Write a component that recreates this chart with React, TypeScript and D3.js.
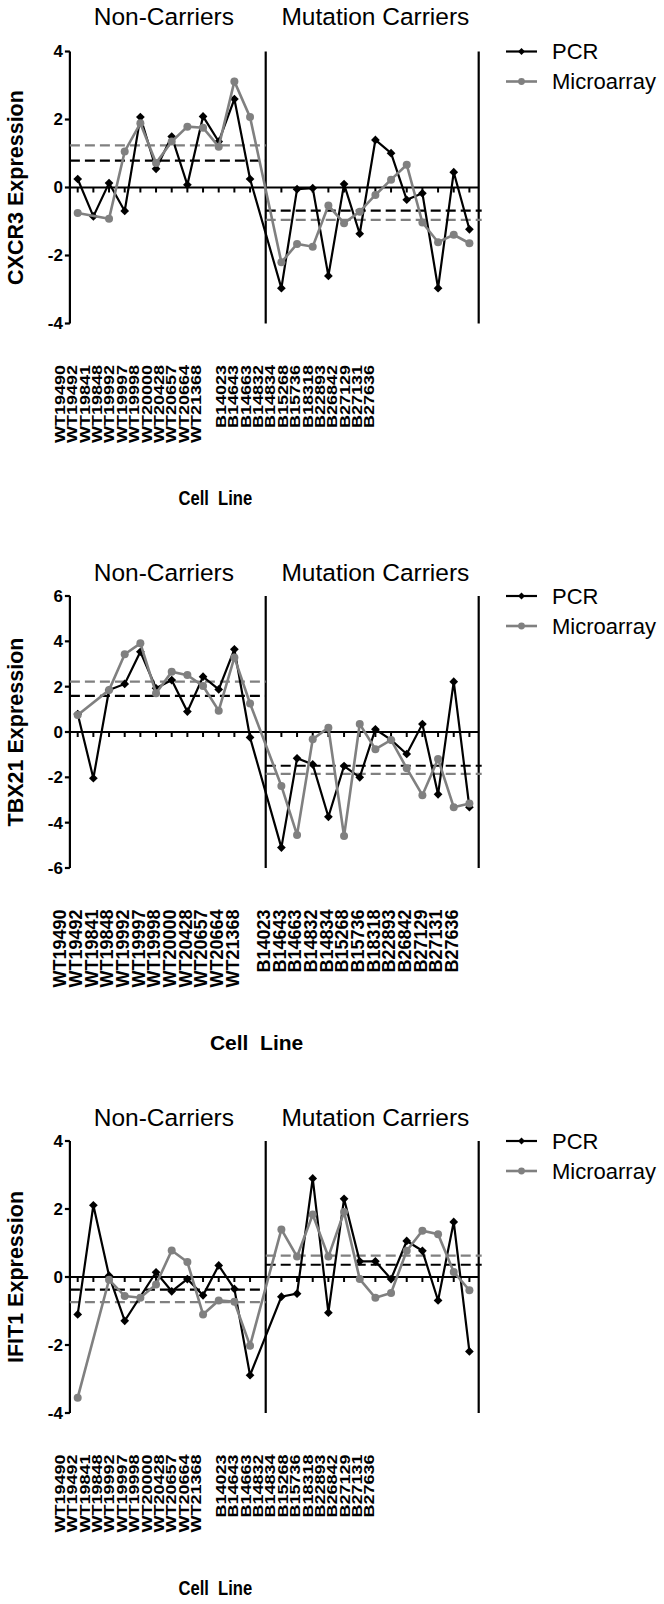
import * as d3 from "d3";

// cell lines, in plot order
const nonCarriers = [
  "WT19490", "WT19492", "WT19841", "WT19848", "WT19992", "WT19997",
  "WT19998", "WT20000", "WT20428", "WT20657", "WT20664", "WT21368",
];
const carriers = [
  "B14023", "B14643", "B14663", "B14832", "B14834", "B15268", "B15736",
  "B18318", "B22893", "B26842", "B27129", "B27131", "B27636",
];

const genes = ["CXCR3", "TBX21", "IFIT1"];
const yLimits = [4, 6, 4];

// values: 12 non-carriers then 13 carriers (null = not measured)
const cxcr3Pcr = [0.25, -0.85, 0.13, -0.69, 2.07, 0.55, 1.5, 0.08, 2.09, 1.35, 2.6, 0.25,
  -2.96, -0.05, -0.02, -2.6, 0.1, -1.36, 1.4, 1.01, -0.36, -0.17, -2.96, 0.45, -1.23];
const cxcr3Micro = [-0.75, null, -0.92, 1.06, 1.89, 0.72, 1.35, 1.79, 1.76, 1.2, 3.12, 2.07,
  -2.2, -1.66, -1.74, -0.53, -1.05, -0.71, -0.22, 0.23, 0.67, -1.03, -1.61, -1.39, -1.64];
const tbx21Pcr = [0.79, -2.04, 1.85, 2.12, 3.54, 1.93, 2.29, 0.9, 2.44, 1.88, 3.65, -0.24,
  -5.1, -1.16, -1.43, -3.74, -1.5, -2.0, 0.12, -0.35, -0.97, 0.35, -2.75, 2.22, -3.32];
const tbx21Micro = [0.75, null, 1.85, 3.43, 3.91, 1.71, 2.66, 2.51, 2.03, 0.94, 3.29, 1.26,
  -2.38, -4.54, -0.32, 0.19, -4.59, 0.35, -0.76, -0.35, -1.6, -2.79, -1.19, -3.32, -3.15];
const ifit1Pcr = [-1.1, 2.11, 0.04, -1.29, null, 0.14, -0.42, -0.06, -0.54, 0.34, -0.35, -2.89,
  -0.58, -0.49, 2.9, -1.05, 2.3, 0.46, 0.46, -0.06, 1.06, 0.77, -0.69, 1.62, -2.19];
const ifit1Micro = [-3.55, null, -0.08, -0.56, -0.61, -0.22, 0.78, 0.44, -1.1, -0.69, -0.73, -2.02,
  1.4, 0.6, 1.84, 0.6, 1.91, -0.06, -0.61, -0.47, 0.77, 1.36, 1.26, 0.15, -0.39];

// group means [non-carriers, carriers]
const pcrMeans = [[0.79, -0.68], [1.59, -1.49], [-0.37, 0.36]];
const microMeans = [[1.24, -0.95], [2.22, -1.85], [-0.74, 0.63]];

const pcrSeries = [cxcr3Pcr, tbx21Pcr, ifit1Pcr];
const microSeries = [cxcr3Micro, tbx21Micro, ifit1Micro];

const GAP = "__gap__";
const slots = [...nonCarriers, GAP, ...carriers];
const cellLines = [...nonCarriers, ...carriers];

const FONT = "'Liberation Sans', Arial, sans-serif";
const GRAY = "#808080";

const x = d3.scalePoint<string>().domain(slots).range([77.7, 469.4]);
const left = (x(nonCarriers[0]) as number) - 7.8;
const divider = x(GAP) as number;
const right = (x(carriers[carriers.length - 1]) as number) + 9.3;

// layout of the three stacked panels
const layout = [
  { top: 51.5, titleY: 25, squeeze: 0.79 },
  { top: 596, titleY: 581, squeeze: 1 },
  { top: 1141, titleY: 1126, squeeze: 0.79 },
];
const plotH = 272;

const diamond = d3.symbol(d3.symbolSquare, 38)()!;

function Panel({ idx }: { idx: number }) {
  const { top, titleY, squeeze } = layout[idx];
  const bottom = top + plotH;
  const lim = yLimits[idx];
  const y = d3.scaleLinear().domain([-lim, lim]).range([bottom, top]);
  const ticks = d3.range(-lim, lim + 0.1, 2);

  const pts = (vals: (number | null)[]) =>
    cellLines
      .map((c, i) => ({ c, v: vals[i] }))
      .filter((d) => d.v !== null) as { c: string; v: number }[];
  const line = d3
    .line<{ c: string; v: number }>()
    .x((d) => x(d.c) as number)
    .y((d) => y(d.v));

  const pcr = pts(pcrSeries[idx]);
  const micro = pts(microSeries[idx]);
  const tx = 60 - squeeze * (x(nonCarriers[0]) as number);
  const labelTop = bottom + 41.5;
  const midNC = ((x(nonCarriers[0]) as number) + (x(nonCarriers[11]) as number)) / 2;
  const midC = ((x(carriers[0]) as number) + (x(carriers[12]) as number)) / 2;

  return (
    <g fontFamily={FONT}>
      <text x={midNC} y={titleY} textAnchor="middle" fontSize={24.5}>Non-Carriers</text>
      <text x={midC} y={titleY} textAnchor="middle" fontSize={24.5}>Mutation Carriers</text>

      {/* y axis */}
      <line x1={left} x2={left} y1={top} y2={bottom} stroke="#000" strokeWidth={2.2} />
      {ticks.map((t) => (
        <g key={t}>
          <line x1={left - 5} x2={left} y1={y(t)} y2={y(t)} stroke="#000" strokeWidth={2.2} />
          <text x={left - 7} y={y(t)} dy="0.35em" textAnchor="end" fontSize={17} fontWeight="bold">
            {t}
          </text>
        </g>
      ))}
      <text
        transform={`translate(15,${(top + bottom) / 2}) rotate(-90)`}
        dy="0.35em"
        textAnchor="middle"
        fontSize={21.5}
        fontWeight="bold"
      >
        {genes[idx]} Expression
      </text>

      {/* zero line, dividers */}
      <line x1={left} x2={right} y1={y(0)} y2={y(0)} stroke="#000" strokeWidth={2.2} />
      {cellLines.map((c) => (
        <line key={c} x1={x(c)} x2={x(c)} y1={y(0)} y2={y(0) + 5} stroke="#000" strokeWidth={2} />
      ))}
      <line x1={divider} x2={divider} y1={top} y2={bottom} stroke="#000" strokeWidth={2.2} />
      <line x1={right} x2={right} y1={top} y2={bottom} stroke="#000" strokeWidth={2.2} />

      {/* group means */}
      <line x1={left} x2={divider} y1={y(microMeans[idx][0])} y2={y(microMeans[idx][0])}
        stroke={GRAY} strokeWidth={2.2} strokeDasharray="10 5" />
      <line x1={divider} x2={right + 3} y1={y(microMeans[idx][1])} y2={y(microMeans[idx][1])}
        stroke={GRAY} strokeWidth={2.2} strokeDasharray="10 5" />
      <line x1={left} x2={divider} y1={y(pcrMeans[idx][0])} y2={y(pcrMeans[idx][0])}
        stroke="#000" strokeWidth={2.2} strokeDasharray="10 5" />
      <line x1={divider} x2={right + 3} y1={y(pcrMeans[idx][1])} y2={y(pcrMeans[idx][1])}
        stroke="#000" strokeWidth={2.2} strokeDasharray="10 5" />

      {/* PCR */}
      <path d={line(pcr)!} fill="none" stroke="#000" strokeWidth={2.2} />
      {pcr.map((d) => (
        <path key={d.c} d={diamond} transform={`translate(${x(d.c)},${y(d.v)}) rotate(45)`} fill="#000" />
      ))}
      {/* Microarray */}
      <path d={line(micro)!} fill="none" stroke={GRAY} strokeWidth={2.6} />
      {micro.map((d) => (
        <circle key={d.c} cx={x(d.c)} cy={y(d.v)} r={4} fill={GRAY} />
      ))}

      {/* legend */}
      <line x1={506} x2={537} y1={top} y2={top} stroke="#000" strokeWidth={2.2} />
      <path d={d3.symbol(d3.symbolSquare, 24)()!} transform={`translate(521.5,${top}) rotate(45)`} fill="#000" />
      <text x={552} y={top} dy="0.35em" fontSize={22}>PCR</text>
      <line x1={506} x2={537} y1={top + 30} y2={top + 30} stroke={GRAY} strokeWidth={2.6} />
      <circle cx={521.5} cy={top + 30} r={3.4} fill={GRAY} />
      <text x={552} y={top + 30} dy="0.35em" fontSize={22}>Microarray</text>

      {/* category labels */}
      <g transform={`translate(${tx},0) scale(${squeeze},1)`}>
        {cellLines.map((c) => (
          <text
            key={c}
            transform={`translate(${x(c)},${labelTop}) rotate(-90)`}
            dy="0.35em"
            textAnchor="end"
            fontSize={18}
            fontWeight="bold"
          >
            {c}
          </text>
        ))}
        <text x={(left + right) / 2} y={bottom + 182} textAnchor="middle" fontSize={21}
          fontWeight="bold" style={{ whiteSpace: "pre" }}>
          {"Cell  Line"}
        </text>
      </g>
    </g>
  );
}

export default function App() {
  return (
    <svg width={664} height={1604} style={{ position: "absolute", left: 0, top: 0, background: "#fff" }}>
      {genes.map((g, i) => (
        <Panel key={g} idx={i} />
      ))}
    </svg>
  );
}
